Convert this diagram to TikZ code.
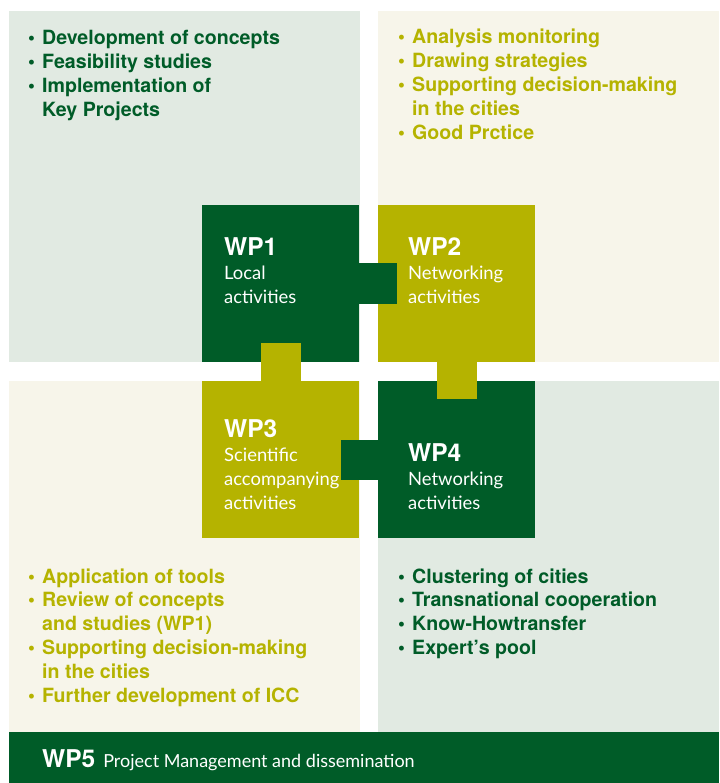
\documentclass[tikz,border=0pt]{standalone}
\usepackage{fontspec}
\setmainfont{TeX Gyre Heros}
\newfontfamily\wplight{Lato}
\usetikzlibrary{calc}
\definecolor{wpgreen}{RGB}{0,92,40}
\definecolor{wpolive}{RGB}{181,179,0}
\definecolor{palegreen}{RGB}{225,234,226}
\definecolor{palecream}{RGB}{247,245,234}
\newcommand\wpbul{\makebox[14pt][l]{\textbullet}}
\newcommand\wpind{\hspace*{14pt}}
\begin{document}
\begin{tikzpicture}[x=1pt, y=-1pt,
        panel/.style={rectangle, anchor=north west, inner sep=0pt, outer sep=0pt, minimum height=351pt},
        wpbox/.style={rectangle, anchor=north west, inner sep=0pt, outer sep=0pt, minimum width=157pt, minimum height=157pt},
        bullets/.style={anchor=base west, align=left, inner sep=0pt, font=\fontsize{19.6}{23.8}\selectfont\bfseries},
        wplabel/.style={anchor=base west, align=left, inner sep=0pt, text=white, font=\fontsize{18.4}{24}\wplight}
    ]
\useasboundingbox (0,0) rectangle (719,783);

\node[panel, fill=palegreen, minimum width=351pt] (area1) at (9,11) {};
        \node[panel, fill=palecream, minimum width=341pt] (area2) at (378,11) {};
        \node[panel, fill=palecream, minimum width=351pt] (area3) at (9,381) {};
        \node[panel, fill=palegreen, minimum width=341pt] (area4) at (378,381) {};
        \node[panel, fill=wpgreen, minimum width=710pt, minimum height=51pt] (wp5) at (9,732) {};

        \node[wpbox, fill=wpgreen] (wp1) at (202,205) {};
        \node[wpbox, fill=wpolive] (wp2) at (378,205) {};
        \node[wpbox, fill=wpolive] (wp3) at (202,381) {};
        \node[wpbox, fill=wpgreen] (wp4) at (378,381) {};

\fill[wpgreen] ($(wp1.east)+(0,-20)$) rectangle ($(wp2.west)+(19,20)$);
        \fill[wpolive] ($(wp3.north)+(-20,0)$) rectangle ($(wp1.south)+(20,-19)$);
        \fill[wpolive] ($(wp2.south)+(-20,0)$) rectangle ($(wp4.north)+(20,18)$);
        \fill[wpgreen] ($(wp4.west)+(0,-20)$) rectangle ($(wp3.east)+(-18,20)$);

\node[wplabel] (wp1txt) at ($(wp1.north west)+(22,98)$) {{\fontsize{24.5}{24}\selectfont\bfseries\rmfamily WP1}\\Local\\activities};
        \node[wplabel] (wp2txt) at ($(wp2.north west)+(30,98)$) {{\fontsize{24.5}{24}\selectfont\bfseries\rmfamily WP2}\\Networking\\activities};
        \node[wplabel] (wp3txt) at ($(wp3.north west)+(22,128)$) {{\fontsize{24.5}{24}\selectfont\bfseries\rmfamily WP3}\\Scientific\\accompanying\\activities};
        \node[wplabel] (wp4txt) at ($(wp4.north west)+(30,128)$) {{\fontsize{24.5}{24}\selectfont\bfseries\rmfamily WP4}\\Networking\\activities};

\node[bullets, text=wpgreen] (list1) at (28,116.4) {\wpbul Development of concepts\\\wpbul Feasibility studies\\\wpbul Implementation of\\\wpind Key Projects};
        \node[bullets, text=wpolive] (list2) at (398,139.2) {\wpbul Analysis monitoring\\\wpbul Drawing strategies\\\wpbul Supporting decision-making\\\wpind in the cities\\\wpbul Good Prctice};
        \node[bullets, text=wpolive] (list3) at (28,702) {\wpbul Application of tools\\\wpbul Review of concepts\\\wpind and studies (WP1)\\\wpbul Supporting decision-making\\\wpind in the cities\\\wpbul Further development of ICC};
        \node[bullets, text=wpgreen] (list4) at (398,654.4) {\wpbul Clustering of cities\\\wpbul Transnational cooperation\\\wpbul Know-Howtransfer\\\wpbul Expert’s pool};

        \node[anchor=base west, inner sep=0pt, text=white] (wp5txt) at (42,767) {{\fontsize{24.5}{24}\selectfont\bfseries WP5}\hspace{8pt}{\fontsize{18}{24}\wplight Project Management and dissemination}};

    \end{tikzpicture}
\end{document}
